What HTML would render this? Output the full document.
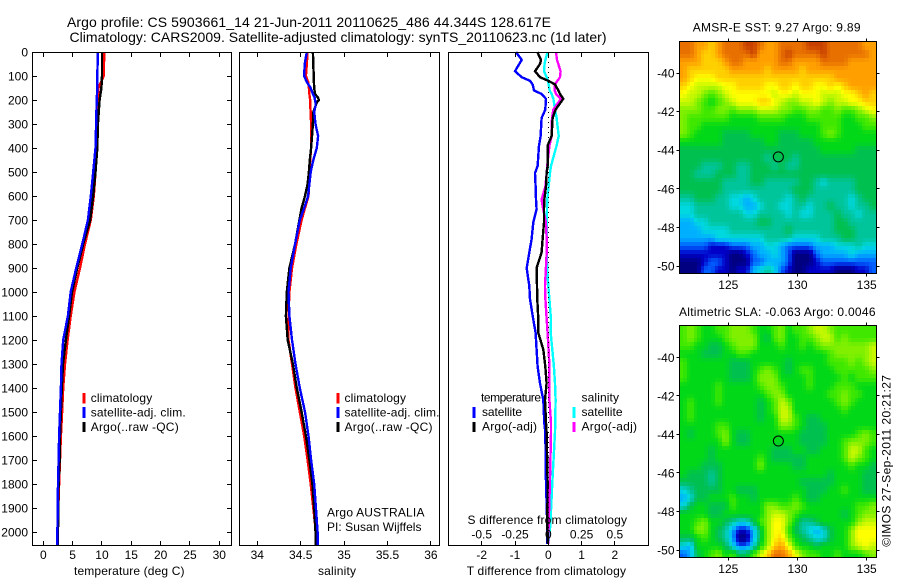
<!DOCTYPE html>
<html lang="en">
<head>
<meta charset="utf-8">
<title>Argo profile</title>
<style>
html,body{margin:0;padding:0;background:#fff;width:900px;height:580px;overflow:hidden}
svg{display:block}
text{font-family:"Liberation Sans",sans-serif;font-size:12px;fill:#000}
.ttl{font-size:14px}
.frame{fill:none;stroke:#000;stroke-width:1;shape-rendering:crispEdges}
.line{fill:none;stroke-width:2.4;stroke-linejoin:miter;shape-rendering:crispEdges}
.mk{stroke-width:2.6;shape-rendering:crispEdges}
</style>
</head>
<body>
<svg id="figure" xmlns="http://www.w3.org/2000/svg" width="900" height="580" viewBox="0 0 900 580">
<rect x="0" y="0" width="900" height="580" fill="#fff"/>
<text class="ttl" x="67" y="27" textLength="484" lengthAdjust="spacing">Argo profile: CS 5903661_14 21-Jun-2011 20110625_486 44.344S 128.617E</text>
<text class="ttl" x="69.5" y="42" textLength="537" lengthAdjust="spacing">Climatology: CARS2009. Satellite-adjusted climatology: synTS_20110623.nc (1d later)</text>

<g id="marks"></g>

<rect class="frame" x="32.5" y="52.5" width="199" height="493"/>
<rect class="frame" x="239.5" y="52.5" width="200" height="493"/>
<rect class="frame" x="448.5" y="52.5" width="200" height="493"/>

<text x="74" y="575" textLength="110.5" lengthAdjust="spacing">temperature (deg C)</text>
<text x="318" y="575" textLength="38" lengthAdjust="spacing">salinity</text>
<text x="466.7" y="575" textLength="159.3" lengthAdjust="spacing">T difference from climatology</text>
<text x="467.5" y="524" textLength="159.5" lengthAdjust="spacing">S difference from climatology</text>

<g>
<line class="mk" x1="84" y1="393" x2="84" y2="403.5" stroke="#f00"/>
<text x="90.7" y="402" textLength="61.5" lengthAdjust="spacing">climatology</text>
<line class="mk" x1="84" y1="407" x2="84" y2="418" stroke="#00f"/>
<text x="90.7" y="416.5" textLength="95" lengthAdjust="spacing">satellite-adj. clim.</text>
<line class="mk" x1="84" y1="422" x2="84" y2="432" stroke="#000"/>
<text x="90.7" y="431" textLength="88" lengthAdjust="spacing">Argo(..raw -QC)</text>
</g>
<g>
<line class="mk" x1="338" y1="393" x2="338" y2="403.5" stroke="#f00"/>
<text x="344.5" y="402" textLength="61.5" lengthAdjust="spacing">climatology</text>
<line class="mk" x1="338" y1="407" x2="338" y2="418" stroke="#00f"/>
<text x="344.5" y="416.5" textLength="95" lengthAdjust="spacing">satellite-adj. clim.</text>
<line class="mk" x1="338" y1="422" x2="338" y2="432" stroke="#000"/>
<text x="344.5" y="431" textLength="88" lengthAdjust="spacing">Argo(..raw -QC)</text>
</g>
<text x="327" y="516.7" textLength="97.5" lengthAdjust="spacing">Argo AUSTRALIA</text>
<text x="327" y="531" textLength="94.5" lengthAdjust="spacing">PI: Susan Wijffels</text>

<g>
<text x="481" y="401.7" textLength="60" lengthAdjust="spacing">temperature</text>
<line class="mk" x1="474" y1="407" x2="474" y2="418" stroke="#00f"/>
<text x="482" y="416" textLength="40" lengthAdjust="spacing">satellite</text>
<line class="mk" x1="474" y1="422" x2="474" y2="432" stroke="#000"/>
<text x="482" y="430.5" textLength="55" lengthAdjust="spacing">Argo(-adj)</text>
<text x="581.5" y="401.7" textLength="37.5" lengthAdjust="spacing">salinity</text>
<line class="mk" x1="574" y1="407" x2="574" y2="418" stroke="#0ff"/>
<text x="581.5" y="416" textLength="41" lengthAdjust="spacing">satellite</text>
<line class="mk" x1="574" y1="422" x2="574" y2="432" stroke="#f0f"/>
<text x="581.5" y="430.5" textLength="55.5" lengthAdjust="spacing">Argo(-adj)</text>
</g>

<text x="692.7" y="31.7" textLength="167.8" lengthAdjust="spacing">AMSR-E SST: 9.27 Argo: 9.89</text>
<text x="679" y="316" textLength="196.5" lengthAdjust="spacing">Altimetric SLA: -0.063 Argo: 0.0046</text>
<text transform="translate(890.5 546.7) rotate(-90)" x="0" y="0" textLength="171.7" lengthAdjust="spacing">©IMOS 27-Sep-2011 20:21:27</text>
</svg>

<script>
// ---- profile data ----
const depthTicks = [0,100,200,300,400,500,600,700,800,900,1000,1100,1200,1300,1400,1500,1600,1700,1800,1900,2000];
const tempTicks = [0,5,10,15,20,25,30];
const salTicks = [34,34.5,35,35.5,36];
const salTickLabels = ['34','34.5','35','35.5','36'];
const tDiffTicks = [-2,-1,0,1,2];
const sDiffTicks = [-0.5,-0.25,0,0.25,0.5];
const sDiffTickLabels = ['-0.5','-0.25','0','0.25','0.5'];

const tempDepths = [0,100,150,200,300,400,500,600,700,800,900,1000,1100,1200,1300,1400,1500,1600,1700,1800,1900,2000,2055];
const tempClim = [10.4,10.3,9.4,9.3,9.2,9.0,8.9,8.6,8.1,7.1,6.25,5.3,4.67,4.15,3.7,3.4,3.2,3.0,2.85,2.7,2.55,2.5,2.4];
const tempArgo = [10.0,10.0,9.9,9.6,9.3,9.2,8.9,8.5,8.0,6.8,5.8,4.9,4.4,3.85,3.35,3.15,3.0,2.85,2.8,2.6,2.55,2.5,2.45];
const tempSat = [9.3,9.2,9.2,9.1,9.0,8.9,8.5,8.1,7.6,6.65,5.6,4.67,4.2,3.4,3.1,3.0,2.85,2.7,2.6,2.5,2.45,2.4,2.4];

const salDepths = [0,50,100,125,150,175,190,200,210,225,250,300,350,400,450,500,550,600,650,700,800,900,1000,1100,1200,1300,1400,1500,1600,1700,1800,1900,2000,2055];
const salClim = [34.58,34.57,34.56,34.585,34.595,34.60,34.605,34.61,34.61,34.61,34.615,34.62,34.62,34.62,34.61,34.60,34.595,34.59,34.55,34.51,34.45,34.40,34.37,34.36,34.36,34.40,34.44,34.49,34.54,34.58,34.615,34.645,34.675,34.68];
const salSat = [34.57,34.546,34.54,34.57,34.615,34.64,34.66,34.665,34.67,34.67,34.655,34.67,34.70,34.685,34.645,34.615,34.60,34.585,34.54,34.49,34.435,34.385,34.36,34.37,34.40,34.44,34.49,34.55,34.59,34.62,34.655,34.675,34.695,34.695];
const salArgo = [34.64,34.645,34.65,34.652,34.655,34.665,34.70,34.71,34.685,34.67,34.645,34.64,34.63,34.62,34.605,34.595,34.58,34.55,34.51,34.485,34.435,34.37,34.34,34.33,34.35,34.41,34.455,34.51,34.56,34.60,34.635,34.655,34.67,34.67];

const diffDepths = [0,33,50,80,105,120,135,160,175,195,240,275,350,390,475,505,560,615,655,710,780,835,900,975,1030,1115,1170,1240,1310,1380,1450,1545,1585,1795,1975,2050];
const tDiffSat = [-0.97,-0.80,-0.87,-1.00,-0.80,-0.55,-0.47,-0.43,-0.20,-0.07,-0.09,-0.20,-0.23,-0.28,-0.32,-0.40,-0.38,-0.37,-0.35,-0.45,-0.50,-0.57,-0.65,-0.57,-0.55,-0.45,-0.38,-0.35,-0.32,-0.25,-0.15,-0.12,-0.09,-0.07,-0.03,-0.03];
const tDiffArgo = [-0.33,-0.22,-0.25,-0.40,-0.25,0,0.20,0.30,0.35,0.45,0.22,0.13,0.10,-0.02,-0.02,-0.05,-0.07,-0.12,-0.13,-0.13,-0.17,-0.20,-0.35,-0.34,-0.33,-0.30,-0.30,-0.15,-0.09,-0.05,-0.10,-0.07,-0.05,-0.02,-0.03,-0.01];
const sDiffSat = [-0.005,-0.022,-0.028,-0.032,-0.012,-0.002,0.002,0.01,0.025,0.038,0.05,0.062,0.078,0.062,0.02,0.012,0.002,-0.008,-0.01,-0.012,-0.012,-0.012,-0.008,0,0.008,0.02,0.018,0.03,0.042,0.05,0.055,0.052,0.05,0.03,0.015,0];
const sDiffArgo = [0.058,0.065,0.075,0.092,0.088,0.068,0.05,0.048,0.058,0.095,0.038,0.028,0.025,0.008,-0.008,-0.012,-0.022,-0.05,-0.038,-0.018,-0.012,-0.012,-0.018,-0.025,-0.022,-0.012,-0.005,0.002,0.008,0.008,0.008,0.02,0.02,0.012,0.002,0];

// ---- map data ----
const mapLonTicks = [125,130,135];
const mapLatTicks = [-40,-42,-44,-46,-48,-50];
const argoLon = 128.617;
const argoLat = -44.344;

const sstLevels = [
[14,14,13,13,12,13,14,14,14,15,15,14,13,13,14,14,14,14,15,15,15,14,14,14,14,14,13,13],
[14,14,13,12,12,13,14,14,14,14,15,13,13,13,14,15,14,14,14,14,15,14,14,14,14,14,14,13],
[13,13,13,12,12,12,13,14,14,13,13,13,13,13,14,14,13,13,13,13,14,14,14,14,13,13,13,13],
[13,12,12,12,12,12,12,13,13,13,13,13,12,13,13,13,13,12,13,13,13,13,13,13,13,13,13,13],
[13,12,11,11,11,12,12,12,12,12,12,12,12,12,12,12,12,12,12,12,12,12,13,13,13,13,13,13],
[12,11,10,10,10,10,11,11,12,12,12,12,11,11,12,12,11,12,12,11,11,12,11,12,13,13,13,13],
[11,10,10,9,8,9,10,11,11,11,11,11,11,10,11,11,10,11,11,11,10,10,10,11,11,12,13,12],
[10,10,9,8,7,8,9,10,11,11,11,12,12,11,10,9,9,10,10,11,10,9,10,10,11,11,12,12],
[9,9,9,8,8,9,9,8,9,9,9,10,10,10,9,9,8,8,9,9,8,8,9,8,8,9,10,11],
[9,8,8,8,8,8,8,7,7,7,7,8,8,8,8,7,7,7,8,8,8,8,8,7,7,8,8,9],
[9,8,8,7,7,7,7,7,7,7,7,7,7,7,7,7,7,7,7,7,8,8,8,7,7,7,8,8],
[9,8,7,7,7,7,6,6,6,6,7,7,7,7,6,6,6,7,7,7,8,9,8,7,7,7,7,7],
[7,7,7,7,7,7,6,6,6,6,6,6,7,7,6,6,6,6,6,7,7,7,7,7,7,7,7,7],
[6,6,6,6,6,6,6,6,6,6,6,6,6,6,6,6,6,6,6,6,7,7,7,7,7,6,6,6],
[6,6,6,6,6,6,6,6,6,6,6,6,5,6,6,6,5,6,6,6,6,6,6,6,6,6,6,6],
[6,6,6,5,5,5,6,6,5,5,6,6,6,5,6,5,5,6,6,6,6,6,6,6,6,6,6,6],
[6,6,5,5,5,6,6,6,5,5,6,6,6,6,6,6,6,6,6,6,6,6,6,6,6,6,6,6],
[6,6,6,6,6,6,5,5,5,5,6,6,5,5,5,5,5,6,6,5,4,5,5,5,5,6,6,6],
[6,6,6,6,6,6,5,5,5,5,5,5,5,5,5,5,6,6,6,5,5,5,5,5,5,6,6,6],
[5,5,6,6,6,5,5,4,4,3,4,5,5,5,5,4,5,6,5,5,5,5,5,5,4,5,6,6],
[4,4,5,5,5,5,5,4,4,3,3,4,5,5,4,4,5,5,4,5,5,6,5,5,4,5,5,6],
[4,4,5,5,5,5,5,5,5,4,4,5,5,5,5,4,5,4,4,5,5,5,6,5,5,4,5,5],
[3,3,4,4,5,5,5,5,5,5,5,6,6,5,5,5,5,5,5,5,5,5,6,6,5,5,5,5],
[3,3,3,4,4,4,4,5,5,5,5,5,5,5,5,6,5,5,5,5,5,5,6,6,6,5,5,5],
[3,3,3,3,3,4,4,4,4,4,4,4,5,5,5,5,4,4,4,4,5,5,5,6,6,5,5,5],
[2,2,2,2,1,1,1,2,2,2,3,3,4,4,3,2,2,2,2,3,3,3,4,4,4,5,4,4],
[1,1,1,1,1,1,1,0,0,1,2,3,3,4,3,2,0,0,0,2,3,3,3,3,4,3,3,3],
[0,0,0,1,2,2,1,0,0,0,2,2,3,3,3,2,0,0,0,1,2,2,2,2,2,2,2,2],
[0,0,0,2,2,1,1,0,1,1,3,4,5,4,2,1,0,0,1,1,1,1,0,0,0,1,1,2]
];

const slaLevels = [
[8,9,8,7,7,8,8,9,9,9,8,7,7,8,9,7,8,8,9,10,10,9,8,8,8,8,8,8],
[8,9,8,7,7,7,8,9,9,9,9,7,6,8,9,7,7,8,8,9,10,10,8,9,8,8,8,8],
[8,8,7,7,6,6,7,8,9,9,9,7,7,7,8,7,7,8,7,8,9,9,9,9,9,9,9,10],
[7,7,7,6,6,6,7,7,8,8,7,7,7,7,7,7,7,7,7,7,7,8,9,9,9,9,9,10],
[8,7,7,7,7,7,7,6,6,6,7,7,7,7,7,6,7,7,7,7,7,8,8,8,9,8,9,10],
[8,7,7,7,7,7,7,6,6,6,7,8,9,8,7,6,7,8,8,7,7,7,8,8,8,8,8,9],
[8,7,7,7,7,7,7,6,6,6,7,9,9,9,7,7,7,7,8,7,7,7,7,8,7,8,8,8],
[7,7,7,7,7,8,7,7,7,7,7,8,9,9,8,7,7,7,8,7,7,7,8,8,8,7,7,7],
[7,7,7,7,7,8,7,7,7,7,7,7,8,9,9,7,7,7,7,7,7,8,8,9,8,8,7,7],
[7,8,7,7,7,8,7,7,7,7,7,6,7,8,10,9,7,7,7,7,7,7,8,9,8,7,7,7],
[7,8,7,7,7,7,7,7,7,7,7,6,7,8,10,10,7,7,7,7,7,7,7,8,7,7,7,7],
[7,8,7,7,7,7,7,7,7,7,7,6,7,7,10,10,8,7,6,6,7,7,7,7,7,7,7,7],
[7,7,7,7,7,8,8,7,7,7,7,7,7,7,9,9,8,7,6,6,6,7,7,7,7,7,7,7],
[7,6,7,7,7,8,9,7,6,6,7,7,7,7,7,7,7,6,6,6,6,7,7,7,7,8,9,8],
[7,7,7,7,7,7,9,7,6,6,7,7,7,7,7,7,7,6,6,6,6,7,7,8,9,9,9,8],
[7,7,7,7,6,7,7,7,7,7,7,7,7,6,6,6,7,7,6,6,7,7,7,8,10,10,8,7],
[7,7,7,7,6,7,7,7,7,7,7,8,7,6,6,6,6,6,7,7,7,7,7,8,10,9,8,7],
[7,7,7,6,6,6,7,7,7,7,7,9,7,7,7,7,6,6,7,7,7,7,7,7,8,7,7,6],
[7,6,6,6,5,6,7,7,7,7,7,7,7,7,7,7,7,7,7,7,7,6,7,7,7,7,6,6],
[6,6,6,6,5,6,7,7,7,7,7,7,7,7,7,7,7,6,6,6,6,6,7,7,7,7,6,6],
[4,5,6,6,6,6,7,7,6,6,6,7,7,7,7,7,7,7,6,6,6,7,7,8,7,7,6,6],
[3,4,6,6,7,7,7,8,7,7,6,7,7,7,7,7,8,7,6,6,7,7,7,7,7,7,7,7],
[4,6,7,7,6,6,6,8,7,7,7,7,9,9,8,8,9,8,7,7,7,7,7,7,7,8,8,9],
[7,7,7,7,6,6,7,7,7,7,7,7,9,10,10,9,8,7,7,7,7,7,7,6,7,8,9,9],
[7,7,8,9,7,7,6,5,4,4,6,8,9,11,11,9,7,5,5,6,7,7,7,7,7,9,10,10],
[7,7,9,9,7,6,5,3,1,1,3,6,9,11,11,8,6,5,4,3,4,6,7,7,9,11,11,11],
[6,6,7,8,7,6,5,3,0,0,3,6,9,11,12,9,7,6,5,4,4,6,7,7,9,11,11,11],
[4,3,7,7,7,7,6,4,2,2,4,7,9,12,13,11,8,7,7,6,7,7,7,7,9,10,11,10],
[2,3,6,7,8,9,7,8,6,6,8,10,12,14,14,13,11,9,8,8,7,7,8,7,7,7,8,9]
];

const colourStops = [[0,0,128],[0,0,200],[0,96,255],[0,176,255],[0,216,224],[0,196,154],[0,192,80],[0,216,24],[64,232,0],[128,240,0],[200,248,0],[255,255,0],[255,208,0],[255,160,0],[232,112,0],[200,64,0]];

// ---- axis functions ----
const SVGNS = 'http://www.w3.org/2000/svg';
const marks = document.getElementById('marks');
const yDepth = d => 52 + 0.24 * d;
const xTemp = v => 43.3 + 5.867 * v;
const xSal = v => 257.3 + 86.8 * (v - 34);
const xTDiff = v => 548.3 + 33.3 * v;
const xSDiff = v => 548.3 + 133.2 * v;
const xLon = v => 728.3 + 13.84 * (v - 125);
const ySst = v => 73 + 19.3 * (-40 - v);
const ySla = v => 357.3 + 19.27 * (-40 - v);

function svgEl(tag, attrs) {
  const el = document.createElementNS(SVGNS, tag);
  for (const k in attrs) el.setAttribute(k, attrs[k]);
  return el;
}
function crisp(v) { return Math.round(v - 0.5) + 0.5; }

function drawProfile(depths, values, xFn, colour, name) {
  const pts = depths.map((d, i) => xFn(values[i]).toFixed(1) + ',' + yDepth(d).toFixed(1)).join(' ');
  const el = svgEl('polyline', {points: pts, class: 'line', stroke: colour});
  
  
  marks.appendChild(el);
}
function tick(x1, y1, x2, y2, name) {
  const el = svgEl('line', {x1: x1, y1: y1, x2: x2, y2: y2, stroke: '#000', 'stroke-width': 1, 'shape-rendering': 'crispEdges'});
  
  
  marks.appendChild(el);
}
function label(x, y, str, anchor, name) {
  const el = svgEl('text', {x: x, y: y, 'text-anchor': anchor});
  el.textContent = str;
  
  
  marks.appendChild(el);
}
function levelColour(v) {
  const t = Math.max(0, Math.min(colourStops.length - 1, v));
  const i = Math.min(colourStops.length - 2, Math.floor(t));
  const f = t - i;
  const a = colourStops[i], b = colourStops[i + 1];
  return 'rgb(' + [0, 1, 2].map(k => Math.round(a[k] + (b[k] - a[k]) * f)).join(',') + ')';
}
// Each grid value is shaded across two sub-cells per axis so the map reads as smooth as the source raster.
function sampleLevel(levels, r, c) {
  const nr = levels.length, nc = levels[0].length;
  const rc = Math.max(0, Math.min(nr - 1, r));
  const cc = Math.max(0, Math.min(nc - 1, c));
  const r0 = Math.floor(rc), c0 = Math.floor(cc);
  const r1 = Math.min(nr - 1, r0 + 1), c1 = Math.min(nc - 1, c0 + 1);
  const fr = rc - r0, fc = cc - c0;
  return (levels[r0][c0] * (1 - fc) + levels[r0][c1] * fc) * (1 - fr) +
         (levels[r1][c0] * (1 - fc) + levels[r1][c1] * fc) * fr;
}
function drawMap(levels, top, yFn, prefix) {
  const cellW = 7, cellH = 8, left = 679.5, sub = 2;
  const nRows = levels.length * sub, nCols = levels[0].length * sub;
  const subW = cellW / sub, subH = cellH / sub;
  for (let r = 0; r < nRows; r++) {
    for (let c = 0; c < nCols; c++) {
      const v = sampleLevel(levels, (r + 0.5) / sub - 0.5, (c + 0.5) / sub - 0.5);
      const x0 = Math.round(left + c * subW), x1 = Math.round(left + (c + 1) * subW);
      const y0 = Math.round(top + r * subH), y1 = Math.round(top + (r + 1) * subH);
      const el = svgEl('rect', {x: x0, y: y0, width: x1 - x0, height: y1 - y0, fill: levelColour(v), 'shape-rendering': 'crispEdges'});
      
      
      marks.appendChild(el);
    }
  }
  const bottom = top + levels.length * cellH;
  const frame = svgEl('rect', {x: left, y: top, width: 197, height: bottom - top, class: 'frame'});
  
  
  marks.appendChild(frame);
  mapLonTicks.forEach(v => {
    const x = crisp(xLon(v));
    tick(x, top - 3, x, top, prefix + '-top-tick');
    tick(x, bottom, x, bottom + 3, prefix + '-bottom-tick');
    label(xLon(v), bottom + 15.5, String(v), 'middle', prefix + '-lon-label');
  });
  mapLatTicks.forEach(v => {
    const y = crisp(yFn(v));
    tick(left - 3, y, left, y, prefix + '-left-tick');
    tick(left + 197, y, left + 200, y, prefix + '-right-tick');
    label(674.5, yFn(v) + 4.5, String(v), 'end', prefix + '-lat-label');
  });
  const circle = svgEl('circle', {cx: xLon(argoLon), cy: yFn(argoLat), r: 5, fill: 'none', stroke: '#000', 'stroke-width': 1});
  
  
  marks.appendChild(circle);
}

// ---- profile panels ----
drawProfile(tempDepths, tempClim, xTemp, '#f00', 'temperature-climatology-line');
drawProfile(tempDepths, tempArgo, xTemp, '#000', 'temperature-argo-line');
drawProfile(tempDepths, tempSat, xTemp, '#00f', 'temperature-satellite-line');

drawProfile(salDepths, salClim, xSal, '#f00', 'salinity-climatology-line');
drawProfile(salDepths, salArgo, xSal, '#000', 'salinity-argo-line');
drawProfile(salDepths, salSat, xSal, '#00f', 'salinity-satellite-line');

drawProfile(diffDepths, tDiffSat, xTDiff, '#00f', 't-difference-satellite-line');
drawProfile(diffDepths, sDiffSat, xSDiff, '#0ff', 's-difference-satellite-line');
drawProfile(diffDepths, sDiffArgo, xSDiff, '#f0f', 's-difference-argo-line');
drawProfile(diffDepths, tDiffArgo, xTDiff, '#000', 't-difference-argo-line');

const zeroLine = svgEl('line', {x1: xTDiff(0), y1: yDepth(0), x2: xTDiff(0), y2: 545, stroke: '#000', 'stroke-width': 1, 'stroke-dasharray': '1 4', 'shape-rendering': 'crispEdges'});


marks.appendChild(zeroLine);

depthTicks.forEach(d => {
  const y = crisp(yDepth(d));
  tick(33, y, 37, y, 'depth-left-tick');
  tick(227, y, 231, y, 'depth-right-tick');
  label(28, yDepth(d) + 4.5, String(d), 'end', 'depth-tick-label');
});
tempTicks.forEach(v => {
  const x = crisp(xTemp(v));
  tick(x, 53, x, 57, 'temperature-top-tick');
  tick(x, 541, x, 545, 'temperature-bottom-tick');
  label(xTemp(v), 559, String(v), 'middle', 'temperature-tick-label');
});
salTicks.forEach((v, i) => {
  const x = crisp(xSal(v));
  tick(x, 53, x, 57, 'salinity-top-tick');
  tick(x, 541, x, 545, 'salinity-bottom-tick');
  label(xSal(v), 559, salTickLabels[i], 'middle', 'salinity-tick-label');
});
tDiffTicks.forEach(v => {
  const x = crisp(xTDiff(v));
  tick(x, 53, x, 57, 't-difference-top-tick');
  tick(x, 541, x, 545, 't-difference-bottom-tick');
  label(xTDiff(v), 559, String(v), 'middle', 't-difference-tick-label');
});
sDiffTicks.forEach((v, i) => {
  label(xSDiff(v), 538.7, sDiffTickLabels[i], 'middle', 's-difference-tick-label');
});

// ---- maps ----
drawMap(sstLevels, 41.5, ySst, 'sst');
drawMap(slaLevels, 325.5, ySla, 'sla');
</script>
</body>
</html>
